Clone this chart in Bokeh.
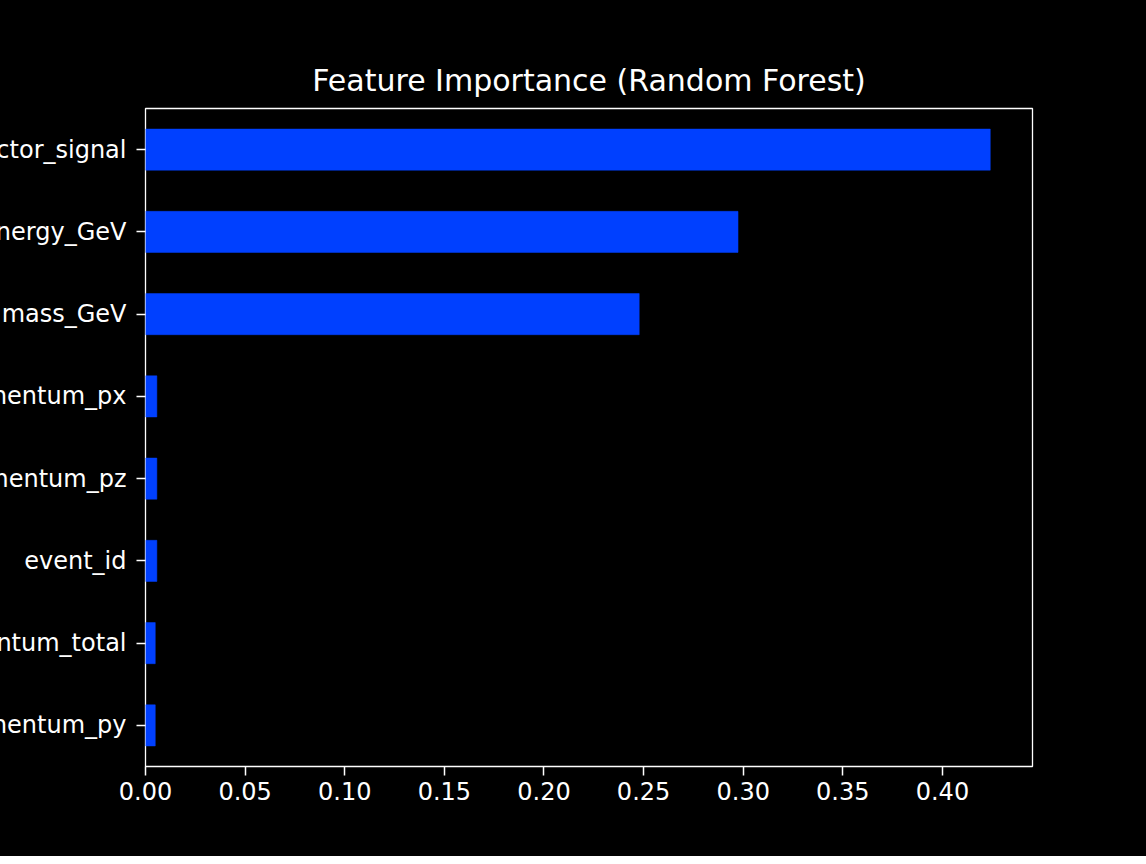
from bokeh.plotting import figure
from bokeh.models import FactorRange, Range1d, FixedTicker, ColumnDataSource
from bokeh.layouts import column
from bokeh.embed import file_html
from bokeh.resources import INLINE

# Data (top-to-bottom order as displayed)
features = ["detector_signal", "energy_GeV", "mass_GeV", "momentum_px",
            "momentum_pz", "event_id", "momentum_total", "momentum_py"]
importances = [0.424, 0.2974, 0.2478, 0.0057, 0.0057, 0.0057, 0.0049, 0.0049]
x_ticks = [0.0, 0.05, 0.10, 0.15, 0.20, 0.25, 0.30, 0.35, 0.40]
x_tick_labels = ["0.00", "0.05", "0.10", "0.15", "0.20", "0.25", "0.30", "0.35", "0.40"]

FONT = "DejaVu Sans"
BAR_COLOR = "#0040FF"
W, H = 1138, 856       # visible area
FRAME_LEFT = 145       # visible frame left edge
LEFT_PANEL = 260       # full room for the y labels inside the figure
SHIFT = LEFT_PANEL - FRAME_LEFT  # part of the figure hidden at the left (labels cut, as in the reference)

src = ColumnDataSource(dict(feature=features, value=importances))

p = figure(width=W + SHIFT, height=H, output_backend="svg", toolbar_location=None,
           y_range=FactorRange(factors=features[::-1]),
           x_range=Range1d(0, max(importances) * 1.05),
           title="Feature Importance (Random Forest)")

p.hbar(y="feature", right="value", left=0, height=0.5, source=src,
       fill_color=BAR_COLOR, line_color=BAR_COLOR, line_width=0.5)

p.background_fill_color = "black"
p.border_fill_color = "black"
p.outline_line_color = "white"
p.outline_line_width = 1.3
p.xgrid.visible = False
p.ygrid.visible = False

p.min_border_left = LEFT_PANEL
p.min_border_right = 106
p.min_border_top = 108
p.min_border_bottom = 90

p.title.text_font = FONT
p.title.text_font_size = "30px"
p.title.text_font_style = "normal"
p.title.text_color = "white"
p.title.align = "center"
p.title.standoff = 22

xa = p.xaxis[0]
xa.ticker = FixedTicker(ticks=x_ticks)
xa.major_label_overrides = {t: s for t, s in zip(x_ticks, x_tick_labels)}
xa.major_label_text_font = FONT
xa.major_label_text_font_size = "24px"
xa.major_label_text_color = "white"
xa.major_tick_out = 9
xa.major_tick_in = 0
xa.minor_tick_out = 0
xa.minor_tick_in = 0
xa.major_tick_line_color = "white"
xa.major_tick_line_width = 1.5
xa.axis_line_color = None
xa.major_label_standoff = 6

ya = p.yaxis[0]
ya.major_label_text_font = FONT
ya.major_label_text_font_size = "24px"
ya.major_label_text_color = "white"
ya.major_label_standoff = 10
ya.major_tick_out = 9
ya.major_tick_in = 0
ya.major_tick_line_color = "white"
ya.major_tick_line_width = 1.5
ya.axis_line_color = None

# shift the figure left inside a clipping box so the long names are cut at the edge
p.styles = {"margin-left": f"-{SHIFT}px"}
layout = column(p, width=W + SHIFT, height=H,
                styles={"overflow": "hidden", "background-color": "black"})

open("out.html", "w").write(file_html(layout, INLINE))
